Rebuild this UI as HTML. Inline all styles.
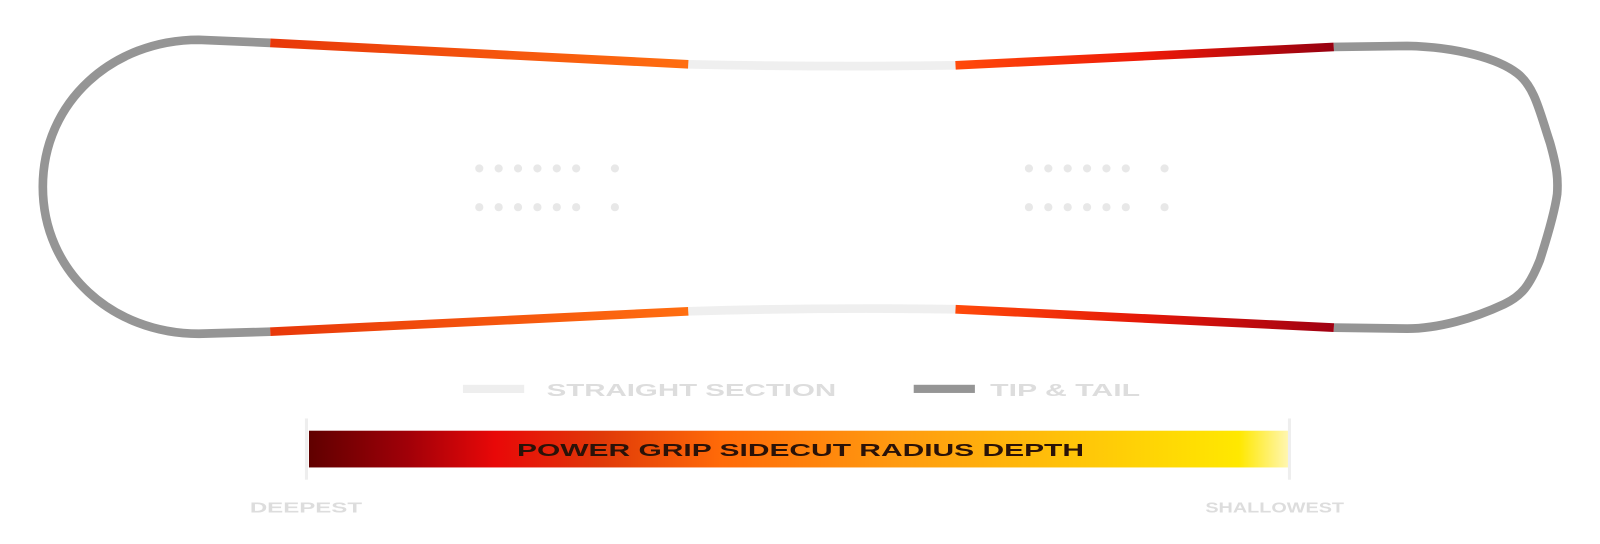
<!DOCTYPE html>
<html><head><meta charset="utf-8"><style>
html,body{margin:0;padding:0;background:#fff;width:1600px;height:544px;overflow:hidden}
svg{display:block}
text{font-family:"Liberation Sans",sans-serif;font-weight:bold}
</style></head><body>
<svg width="1600" height="544" viewBox="0 0 1569 533" preserveAspectRatio="none" xmlns="http://www.w3.org/2000/svg">
<defs>
<linearGradient id="tl" x1="265" y1="0" x2="675" y2="0" gradientUnits="userSpaceOnUse"><stop offset="0" stop-color="#e8380a"/><stop offset="1" stop-color="#ff6e10"/></linearGradient>
<linearGradient id="tr" x1="937" y1="0" x2="1308" y2="0" gradientUnits="userSpaceOnUse"><stop offset="0" stop-color="#ff4a0a"/><stop offset="0.5" stop-color="#ee1a08"/><stop offset="1" stop-color="#960010"/></linearGradient>
<linearGradient id="br" x1="937" y1="0" x2="1308" y2="0" gradientUnits="userSpaceOnUse"><stop offset="0" stop-color="#ff4a0a"/><stop offset="0.5" stop-color="#e41808"/><stop offset="1" stop-color="#a00012"/></linearGradient>
<linearGradient id="bar" x1="0" y1="0" x2="1" y2="0"><stop offset="0" stop-color="#600000"/><stop offset="0.1" stop-color="#a00008"/><stop offset="0.19" stop-color="#e80808"/><stop offset="0.3" stop-color="#e03a08"/><stop offset="0.42" stop-color="#ff6a08"/><stop offset="0.6" stop-color="#ff9a10"/><stop offset="0.8" stop-color="#ffc808"/><stop offset="0.95" stop-color="#ffe800"/><stop offset="1" stop-color="#fff6b0"/></linearGradient>
</defs>
<g fill="none" stroke-width="8.5">
<path d="M265,42 L195,39 C110,39 42,100 42,183 C42,266 110,327 195,327 L265,325" stroke="#959595"/>
<path d="M265,42 L675,63" stroke="url(#tl)"/>
<path d="M675,63 Q806,66 937,64" stroke="#efefef"/>
<path d="M937,64 L1308,46" stroke="url(#tr)"/>
<path d="M1308,46 L1380,45 C1430,46 1470,58 1488,72 C1505,85 1510,110 1520,140 C1527,165 1528,175 1527,190 C1525,205 1518,230 1510,255 C1500,280 1492,290 1475,298 C1445,312 1410,322 1380,322 L1308,321" stroke="#959595"/>
<path d="M265,325 L675,305" stroke="url(#tl)"/>
<path d="M675,305 Q806,301 937,303" stroke="#efefef"/>
<path d="M937,303 L1308,321" stroke="url(#br)"/>
</g>
<g fill="#e8e8e8">
<circle cx="470" cy="165" r="4"/><circle cx="489" cy="165" r="4"/><circle cx="508" cy="165" r="4"/><circle cx="527" cy="165" r="4"/><circle cx="546" cy="165" r="4"/><circle cx="565" cy="165" r="4"/><circle cx="603" cy="165" r="4"/>
<circle cx="470" cy="203" r="4"/><circle cx="489" cy="203" r="4"/><circle cx="508" cy="203" r="4"/><circle cx="527" cy="203" r="4"/><circle cx="546" cy="203" r="4"/><circle cx="565" cy="203" r="4"/><circle cx="603" cy="203" r="4"/>
<circle cx="1009" cy="165" r="4"/><circle cx="1028" cy="165" r="4"/><circle cx="1047" cy="165" r="4"/><circle cx="1066" cy="165" r="4"/><circle cx="1085" cy="165" r="4"/><circle cx="1104" cy="165" r="4"/><circle cx="1142" cy="165" r="4"/>
<circle cx="1009" cy="203" r="4"/><circle cx="1028" cy="203" r="4"/><circle cx="1047" cy="203" r="4"/><circle cx="1066" cy="203" r="4"/><circle cx="1085" cy="203" r="4"/><circle cx="1104" cy="203" r="4"/><circle cx="1142" cy="203" r="4"/>
</g>
<rect x="454" y="377" width="60" height="8" fill="#eeeeee"/>
<text x="536" y="388" font-size="17" fill="#dddddd" textLength="284" lengthAdjust="spacingAndGlyphs">STRAIGHT SECTION</text>
<rect x="896" y="377" width="60" height="8" fill="#959595"/>
<text x="971" y="388" font-size="17" fill="#dddddd" textLength="147" lengthAdjust="spacingAndGlyphs">TIP &amp; TAIL</text>
<rect x="299" y="410" width="3" height="60" fill="#eeeeee"/>
<rect x="1263" y="410" width="3" height="60" fill="#eeeeee"/>
<rect x="303" y="422" width="960" height="36" fill="url(#bar)"/>
<text x="507" y="447" font-size="17" fill="#2a1208" textLength="556" lengthAdjust="spacingAndGlyphs">POWER GRIP SIDECUT RADIUS DEPTH</text>
<text x="245" y="502" font-size="14" fill="#dddddd" textLength="110" lengthAdjust="spacingAndGlyphs">DEEPEST</text>
<text x="1182" y="502" font-size="14" fill="#dddddd" textLength="136" lengthAdjust="spacingAndGlyphs">SHALLOWEST</text>
</svg>
</body></html>
